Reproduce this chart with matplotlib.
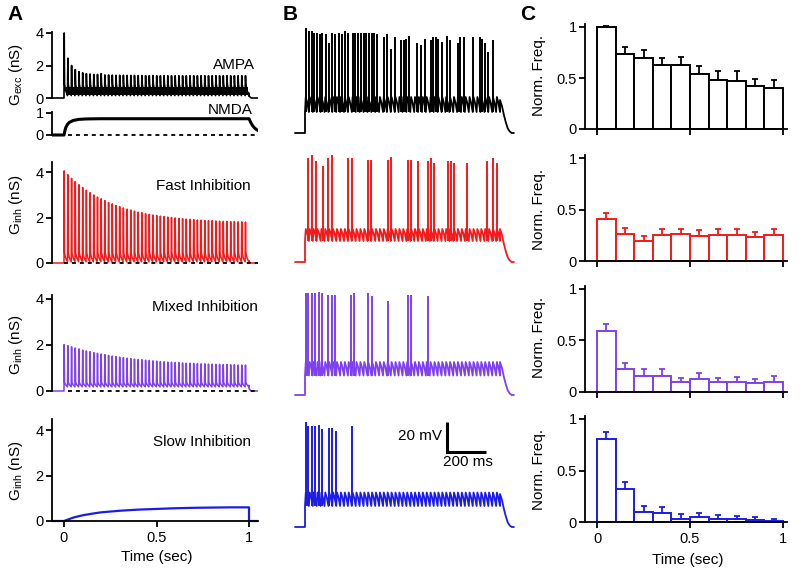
import numpy as np
import matplotlib
matplotlib.use("Agg")
import matplotlib.pyplot as plt

plt.rcParams["font.family"] = ["Liberation Sans", "DejaVu Sans"]
plt.rcParams["mathtext.default"] = "regular"

W, H = 800, 576

BLACK = "black"
RED = "#f21a1a"
PURPLE = "#7f40ee"
BLUE = "#1c1ce6"

# --- panel A: conductances (nS) -------------------------------------------
pulse_times = np.arange(50) * 0.02  # 50 Hz synaptic train over 1 s

ampa_peaks = [4.0, 2.45, 2.0, 1.75, 1.62, 1.55, 1.5, 1.48, 1.45, 1.45,
              1.5, 1.42, 1.42, 1.41, 1.4, 1.4, 1.4, 1.39, 1.39, 1.39,
              1.38, 1.38, 1.38, 1.38, 1.38, 1.37, 1.37, 1.37, 1.37, 1.37,
              1.37, 1.37, 1.37, 1.37, 1.37, 1.37, 1.37, 1.37, 1.37, 1.37,
              1.37, 1.37, 1.37, 1.37, 1.37, 1.37, 1.37, 1.37, 1.37, 1.37]
fast_peaks = [4.05, 3.88, 3.72, 3.58, 3.44, 3.32, 3.2, 3.09, 2.99, 2.9,
              2.82, 2.74, 2.66, 2.6, 2.53, 2.48, 2.42, 2.37, 2.33, 2.28,
              2.24, 2.21, 2.17, 2.14, 2.11, 2.09, 2.06, 2.04, 2.02, 2.0,
              1.98, 1.96, 1.95, 1.93, 1.92, 1.91, 1.89, 1.88, 1.87, 1.86,
              1.86, 1.85, 1.84, 1.83, 1.83, 1.82, 1.82, 1.81, 1.81, 1.8]
mixed_peaks = [2.02, 1.97, 1.92, 1.87, 1.83, 1.78, 1.74, 1.71, 1.67, 1.64,
               1.61, 1.58, 1.55, 1.52, 1.5, 1.47, 1.45, 1.43, 1.41, 1.39,
               1.37, 1.36, 1.34, 1.33, 1.31, 1.3, 1.28, 1.27, 1.26, 1.25,
               1.24, 1.23, 1.22, 1.21, 1.21, 1.2, 1.19, 1.18, 1.18, 1.17,
               1.17, 1.16, 1.16, 1.15, 1.15, 1.14, 1.14, 1.13, 1.13, 1.13]

# dense AMPA decay band between pulses (nS)
ampa_band = (0.2, 0.7)

nmda_t = [-0.065, 0.0, 0.005, 0.01, 0.02, 0.03, 0.05, 0.08, 0.12, 0.2,
          0.4, 0.6, 0.8, 1.0, 1.01, 1.02, 1.03, 1.04, 1.05]
nmda_g = [0, 0, 0.2, 0.35, 0.5, 0.58, 0.66, 0.71, 0.73, 0.74,
          0.74, 0.74, 0.74, 0.74, 0.56, 0.42, 0.32, 0.25, 0.2]

slow_t = [-0.065, 0.0, 0.02, 0.05, 0.1, 0.15, 0.2, 0.3, 0.4, 0.5,
          0.6, 0.7, 0.8, 0.9, 1.0, 1.0, 1.05]
slow_g = [0, 0, 0.06, 0.15, 0.25, 0.32, 0.38, 0.45, 0.5, 0.53,
          0.56, 0.58, 0.59, 0.6, 0.6, 0, 0]

# --- panel B: membrane potential (mV) -------------------------------------
rest_mv = -70
ctrl_spike_t = [0.003, 0.019, 0.034, 0.048, 0.062, 0.075, 0.089, 0.106, 0.123, 0.140,
                0.156, 0.173, 0.188, 0.205, 0.222, 0.244, 0.258, 0.272, 0.285, 0.301,
                0.313, 0.326, 0.342, 0.356, 0.371, 0.407, 0.422, 0.443, 0.462, 0.492,
                0.506, 0.520, 0.532, 0.576, 0.595, 0.614, 0.646, 0.658, 0.670, 0.684,
                0.703, 0.728, 0.745, 0.783, 0.797, 0.814, 0.860, 0.896, 0.909, 0.921,
                0.940, 0.966]
ctrl_spike_v = [0, -2, -2, -3, -3, -4, -3, -4, -10, -3,
                -4, -3, -4, -2, -3, -3, -3, -3, -3, -3,
                -3, -3, -3, -3, -4, -6, -4, -14, -6, -8,
                -8, -7, -5, -10, -11, -7, -8, -6, -6, -7,
                -9, -5, -8, -10, -6, -6, -6, -6, -7, -10,
                -16, -8]
fast_spike_t = [0.017, 0.034, 0.055, 0.094, 0.120, 0.137, 0.222, 0.239, 0.321, 0.337,
                0.424, 0.441, 0.526, 0.542, 0.578, 0.629, 0.644, 0.662, 0.732, 0.749,
                0.766, 0.829, 0.932, 0.966, 0.986]
fast_spike_v = [-1, 1, -3, -6, -1, 1, -1, -1, -2, -2,
                -2, 0, -2, -2, -3, -3, -1, -4, -3, -3,
                -4, -4, -3, -1, -4]
mixed_spike_t = [0.003, 0.017, 0.034, 0.051, 0.072, 0.089, 0.120, 0.137, 0.154, 0.236,
                 0.253, 0.321, 0.342, 0.424, 0.526, 0.544, 0.629]
mixed_spike_v = [-2, -2, -2, -2, -1, -2, -3, -3, -3, -3,
                 -2, -2, -4, -7, -3, -3, -4]
slow_spike_t = [0.003, 0.017, 0.034, 0.051, 0.072, 0.089, 0.123, 0.140, 0.157, 0.239]
slow_spike_v = [0, -3, -3, -3, -2, -5, -4, -4, -6, -3]

# subthreshold plateau band (low, high) for each condition
ctrl_band = (-56, -46)
fast_band = (-56, -48)
mixed_band = (-57, -48)
slow_band = (-56, -47)

offset_t = [1.0, 1.01, 1.02, 1.03, 1.04, 1.05, 1.06, 1.07]
offset_v = [-48, -52, -58, -63, -67, -69, -70, -70]

scale_mv = 20
scale_ms = 200

# --- panel C: normalised firing frequency ---------------------------------
bin_centers = [0.05, 0.15, 0.25, 0.35, 0.45, 0.55, 0.65, 0.75, 0.85, 0.95]
ctrl_freq = [1.0, 0.74, 0.70, 0.63, 0.63, 0.54, 0.48, 0.47, 0.42, 0.40]
ctrl_err = [0.005, 0.065, 0.07, 0.07, 0.08, 0.08, 0.085, 0.095, 0.07, 0.08]
fast_freq = [0.41, 0.26, 0.19, 0.25, 0.26, 0.24, 0.25, 0.25, 0.23, 0.25]
fast_err = [0.06, 0.06, 0.055, 0.06, 0.05, 0.06, 0.06, 0.06, 0.05, 0.06]
mixed_freq = [0.59, 0.22, 0.16, 0.16, 0.10, 0.13, 0.10, 0.10, 0.09, 0.10]
mixed_err = [0.07, 0.065, 0.06, 0.06, 0.04, 0.055, 0.04, 0.045, 0.04, 0.06]
slow_freq = [0.81, 0.32, 0.10, 0.085, 0.03, 0.05, 0.025, 0.025, 0.02, 0.01]
slow_err = [0.065, 0.07, 0.06, 0.065, 0.045, 0.04, 0.04, 0.035, 0.03, 0.015]


def calib_axes(fig, x_cal, y_cal, xlim, ylim):
    # x_cal / y_cal: (pixel of value 0, pixels per unit); y pixels grow downward
    x0 = x_cal[0] + x_cal[1] * xlim[0]
    x1 = x_cal[0] + x_cal[1] * xlim[1]
    yb = y_cal[0] - y_cal[1] * ylim[0]
    yt = y_cal[0] - y_cal[1] * ylim[1]
    ax = fig.add_axes([x0 / W, 1 - yb / H, (x1 - x0) / W, (yb - yt) / H])
    ax.set_xlim(*xlim)
    ax.set_ylim(*ylim)
    ax.patch.set_visible(False)
    return ax


def style_left(ax, yticks, bottom=False):
    for side in ("top", "right"):
        ax.spines[side].set_visible(False)
    ax.spines["left"].set_linewidth(1.3)
    ax.spines["left"].set_bounds(0, ax.get_ylim()[1])
    ax.set_yticks(yticks)
    ax.set_yticklabels([f"{v:g}" for v in yticks])
    ax.tick_params(axis="y", direction="out", length=4, width=1.3, labelsize=10.5, pad=2)
    if bottom:
        ax.spines["bottom"].set_position(("data", 0))
        ax.spines["bottom"].set_linewidth(1.3)
        ax.tick_params(axis="x", direction="out", length=4, width=1.3, labelsize=10.5, pad=3)
    else:
        ax.spines["bottom"].set_visible(False)
        ax.set_xticks([])


def train_xy(times, peaks, trough, knee, end_level):
    xs, ys = [-0.065, 0.0], [0.0, 0.0]
    for t, p in zip(times, peaks):
        xs += [t + 0.001, t + 0.003, t + 0.008, t + 0.019]
        ys += [p, knee, (knee + trough) / 2, trough]
    xs += [1.0, 1.0, 1.012, 1.05]
    ys += [end_level, end_level * 0.4, 0.0, 0.0]
    return xs, ys


def vm_xy(band):
    lo, hi = band
    xs, ys = [-0.05, 0.0, 0.0], [rest_mv, rest_mv, lo]
    for t in pulse_times:
        xs += [t + 0.004, t + 0.012, t + 0.02]
        ys += [hi, (lo + hi) / 2 + 1, lo]
    xs += offset_t
    ys += offset_v
    return xs, ys


def fig_text(x, y, s, **kw):
    fig.text(x / W, 1 - y / H, s, **kw)


fig = plt.figure(figsize=(W / 100, H / 100), dpi=100)

# ---------------- A ----------------
ax_x = (64, 185)
xl_a = (-0.065, 1.05)

ax = calib_axes(fig, ax_x, (98, 16.25), xl_a, (-0.12, 4.05))
style_left(ax, [0, 2, 4])
xs, ys = train_xy(pulse_times, ampa_peaks, 0.15, 0.85, 0.3)
ax.plot(xs, ys, color=BLACK, lw=1.2)
ax.fill_between([0.01, 0.995], ampa_band[0], ampa_band[1], color=BLACK, lw=0)

ax = calib_axes(fig, ax_x, (135, 22), xl_a, (-0.12, 1.05))
style_left(ax, [0, 1])
ax.plot([0.02, 1.05], [0, 0], color=BLACK, lw=1.3, dashes=(2.2, 2.2))
ax.plot(nmda_t, nmda_g, color=BLACK, lw=2.2)

ax = calib_axes(fig, ax_x, (263, 22.75), xl_a, (-0.12, 4.45))
style_left(ax, [0, 2, 4])
xs, ys = train_xy(pulse_times, fast_peaks, 0.05, 0.45, 0.1)
ax.plot(xs, ys, color=RED, lw=1.1)
ax.plot([0.0, 1.05], [0, 0], color=BLACK, lw=1.3, dashes=(2.2, 2.2))

ax = calib_axes(fig, ax_x, (391, 23), xl_a, (-0.12, 4.17))
style_left(ax, [0, 2, 4])
xs, ys = train_xy(pulse_times, mixed_peaks, 0.18, 0.38, 0.25)
ax.plot(xs, ys, color=PURPLE, lw=1.1)
ax.plot([0.02, 1.05], [0, 0], color=BLACK, lw=1.3, dashes=(2.2, 2.2))

ax = calib_axes(fig, ax_x, (521, 22.75), xl_a, (-0.12, 4.5))
style_left(ax, [0, 2, 4], bottom=True)
ax.plot(slow_t, slow_g, color=BLUE, lw=1.6)
ax.set_xticks([0, 0.5, 1])
ax.set_xticklabels(["0", "0.5", "1"])

fig_text(255, 65, "AMPA", ha="right", va="center", fontsize=11)
fig_text(253, 110, "NMDA", ha="right", va="center", fontsize=11)
fig_text(251, 186, "Fast Inhibition", ha="right", va="center", fontsize=11)
fig_text(258, 307, "Mixed Inhibition", ha="right", va="center", fontsize=11)
fig_text(251, 442, "Slow Inhibition", ha="right", va="center", fontsize=11)
fig_text(16, 74, "G$_{exc}$ (nS)", rotation=90, ha="center", va="center", fontsize=11)
fig_text(16, 205, "G$_{inh}$ (nS)", rotation=90, ha="center", va="center", fontsize=11)
fig_text(16, 345, "G$_{inh}$ (nS)", rotation=90, ha="center", va="center", fontsize=11)
fig_text(16, 471, "G$_{inh}$ (nS)", rotation=90, ha="center", va="center", fontsize=11)
fig_text(157, 557, "Time (sec)", ha="center", va="center", fontsize=11)

# ---------------- B ----------------
bx = (305, 195)
xl_b = (-0.06, 1.08)
yl_b = (-75, 5)
traces_b = [
    (133, ctrl_band, ctrl_spike_t, ctrl_spike_v, BLACK),
    (262, fast_band, fast_spike_t, fast_spike_v, RED),
    (395, mixed_band, mixed_spike_t, mixed_spike_v, PURPLE),
    (527, slow_band, slow_spike_t, slow_spike_v, BLUE),
]
for base_px, band, sp_t, sp_v, color in traces_b:
    # base_px is where the resting potential sits; 1.5 px per mV
    ax = calib_axes(fig, bx, (base_px + 1.5 * rest_mv, 1.5), xl_b, yl_b)
    ax.set_axis_off()
    xs, ys = vm_xy(band)
    ax.plot(xs, ys, color=color, lw=1.3)
    ax.vlines(sp_t, band[0], sp_v, color=color, lw=1.4)

# scale bar drawn in the last B axes (mV / s)
bar_t0 = 0.73
bar_v0 = -20
ax.plot([bar_t0, bar_t0, bar_t0 + scale_ms / 1000],
        [bar_v0 + scale_mv, bar_v0, bar_v0],
        color=BLACK, lw=2.2, solid_joinstyle="miter", solid_capstyle="butt")
fig_text(442, 436, f"{scale_mv} mV", ha="right", va="center", fontsize=11)
fig_text(468, 462, f"{scale_ms} ms", ha="center", va="center", fontsize=11)

# ---------------- C ----------------
cx = (597, 186)
xl_c = (-0.065, 1.02)
yl_c = (-0.03, 1.03)
rows_c = [
    (129, 102, ctrl_freq, ctrl_err, BLACK),
    (261, 103, fast_freq, fast_err, RED),
    (392, 103, mixed_freq, mixed_err, PURPLE),
    (522, 103, slow_freq, slow_err, BLUE),
]
label_y = [75, 209, 338, 469]
for i, (zero_px, ppu, freq, err, color) in enumerate(rows_c):
    ax = calib_axes(fig, cx, (zero_px, ppu), xl_c, yl_c)
    style_left(ax, [0, 0.5, 1], bottom=True)
    ax.bar(bin_centers, freq, width=0.1, facecolor="white", edgecolor=color,
           linewidth=1.4, zorder=2)
    ax.errorbar(bin_centers, freq, yerr=[[0] * len(err), err], fmt="none",
                ecolor=color, elinewidth=1.3, capsize=2.2, capthick=1.3, zorder=1)
    ax.set_xticks([0, 0.5, 1])
    if i == len(rows_c) - 1:
        ax.set_xticklabels(["0", "0.5", "1"])
    else:
        ax.set_xticklabels([])
    fig_text(539, label_y[i], "Norm. Freq.", rotation=90, ha="center", va="center", fontsize=11)
fig_text(688, 560, "Time (sec)", ha="center", va="center", fontsize=11)

# panel letters
fig_text(15, 15, "A", ha="center", va="center", fontsize=15, fontweight="bold")
fig_text(290, 15, "B", ha="center", va="center", fontsize=15, fontweight="bold")
fig_text(528, 15, "C", ha="center", va="center", fontsize=15, fontweight="bold")

fig.savefig("out.png", dpi=100)
